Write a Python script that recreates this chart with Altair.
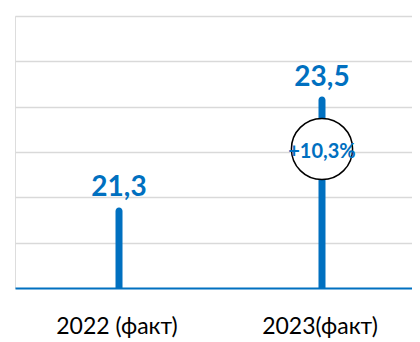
import altair as alt
import pandas as pd

categories = ["2022 (факт)", "2023(факт)"]
values = [21.3, 23.5]
value_labels = ["21,3", "23,5"]
growth_label = "+10,3%"

y_min = 19.7
y_max = 25.1
grid_values = [20.6, 21.5, 22.4, 23.3, 24.2, 25.1]

BLUE = "#0070C0"
FONT = "Lato"

df = pd.DataFrame({"cat": categories, "value": values, "label": value_labels, "base": [y_min] * 2})
growth_df = pd.DataFrame({
    "cat": [categories[1]],
    "mid": [sum(values) / 2],
    "label": [growth_label],
})

x_scale = alt.Scale(type="band", paddingInner=0.1132, paddingOuter=0.0345, align=1)
x_enc = alt.X(
    "cat:N",
    sort=categories,
    scale=x_scale,
    axis=alt.Axis(
        title=None, labelAngle=0, ticks=False, grid=False,
        domainColor=BLUE, domainWidth=2,
        labelFont=FONT, labelFontSize=23, labelColor="#000000",
        labelBaseline="alphabetic", labelPadding=45, labelOffset=-2,
    ),
)
y_scale = alt.Scale(domain=[y_min, y_max], nice=False, zero=False)

bars = alt.Chart(df).mark_bar(
    color=BLUE, size=7, cornerRadiusTopLeft=3.5, cornerRadiusTopRight=3.5
).encode(
    x=x_enc,
    y=alt.Y("value:Q", scale=y_scale, axis=alt.Axis(
        title=None, values=grid_values, labels=False, ticks=False, domain=False,
        grid=True, gridColor="#d9d9d9", gridWidth=1.5,
    )),
    y2="base:Q",
)

texts = alt.Chart(df).mark_text(
    color=BLUE, font=FONT, fontWeight="bold", fontSize=28, baseline="alphabetic", dy=-11
).encode(
    x=alt.X("cat:N", sort=categories),
    y=alt.Y("value:Q", scale=y_scale),
    text="label:N",
)

circle = alt.Chart(growth_df).mark_point(
    shape="circle", filled=False, fill="white", fillOpacity=1, stroke="black", strokeWidth=1.5,
    size=3740, opacity=1, yOffset=-3
).encode(
    x=alt.X("cat:N", sort=categories),
    y=alt.Y("mid:Q", scale=y_scale),
)

growth_text = alt.Chart(growth_df).mark_text(
    color=BLUE, font=FONT, fontWeight="bold", fontSize=20, baseline="middle", dy=0
).encode(
    x=alt.X("cat:N", sort=categories),
    y=alt.Y("mid:Q", scale=y_scale),
    text="label:N",
)

chart = alt.layer(bars, texts, circle, growth_text).properties(
    width=397, height=272,
    autosize=alt.AutoSizeParams(type="none"),
    padding={"left": 7, "top": 8, "right": 0, "bottom": 51},
).configure_view(stroke=None).configure(background="white")

chart.save("out.html", embed_options={"renderer": "svg", "actions": False})
